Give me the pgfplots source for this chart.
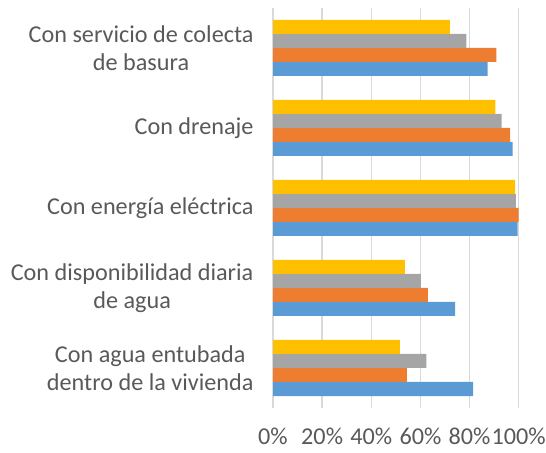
\documentclass[border=0pt]{standalone}
\usepackage{pgfplots}
\pgfplotsset{compat=1.18}
\usepackage{fontspec}
\setmainfont{Carlito}
\definecolor{cblue}{HTML}{5B9BD5}
\definecolor{corange}{HTML}{ED7D31}
\definecolor{cgray}{HTML}{A5A5A5}
\definecolor{cyellow}{HTML}{FFC000}
\definecolor{txt}{HTML}{595959}
\definecolor{gridc}{HTML}{D9D9D9}
\begin{document}
\begin{tikzpicture}
\path[use as bounding box] (0,0) rectangle (546bp,453bp);
\begin{axis}[
  at={(273bp,45bp)}, anchor=south west,
  scale only axis, width=245.7bp, height=400bp,
  xbar, xmin=0, xmax=100, ymin=-0.5, ymax=4.5,
  bar width=14bp,
  axis line style={draw=none},
  xmajorgrids, grid style={gridc, line width=1.3bp},
  xtick={0,20,40,60,80,100},
  xticklabels={0\%,20\%,40\%,60\%,80\%,100\%},
  ytick={0,1,2,3,4},
  yticklabels={{Con agua entubada\\dentro de la vivienda},{Con disponibilidad diaria\\de agua},{Con energía eléctrica},{Con drenaje},{Con servicio de colecta\\de basura}},
  major tick length=0pt,
  tick label style={font=\fontsize{24.2bp}{28.5bp}\selectfont, text=txt},
  yticklabel style={align=center, xshift=-16bp},
  xticklabel style={yshift=-16bp},
  /pgf/number format/assume math mode=true,
]
\addplot[fill=cblue, draw=none, bar shift=-21bp] coordinates {(81.4,0) (74.1,1) (99.6,2) (97.5,3) (87.4,4)};
\addplot[fill=corange, draw=none, bar shift=-7bp] coordinates {(54.5,0) (63.0,1) (100,2) (96.5,3) (90.9,4)};
\addplot[fill=cgray, draw=none, bar shift=7bp] coordinates {(62.4,0) (60.2,1) (98.8,2) (93.1,3) (78.7,4)};
\addplot[fill=cyellow, draw=none, bar shift=21bp] coordinates {(51.6,0) (53.7,1) (98.5,2) (90.5,3) (72.0,4)};
\end{axis}
\end{tikzpicture}
\end{document}
